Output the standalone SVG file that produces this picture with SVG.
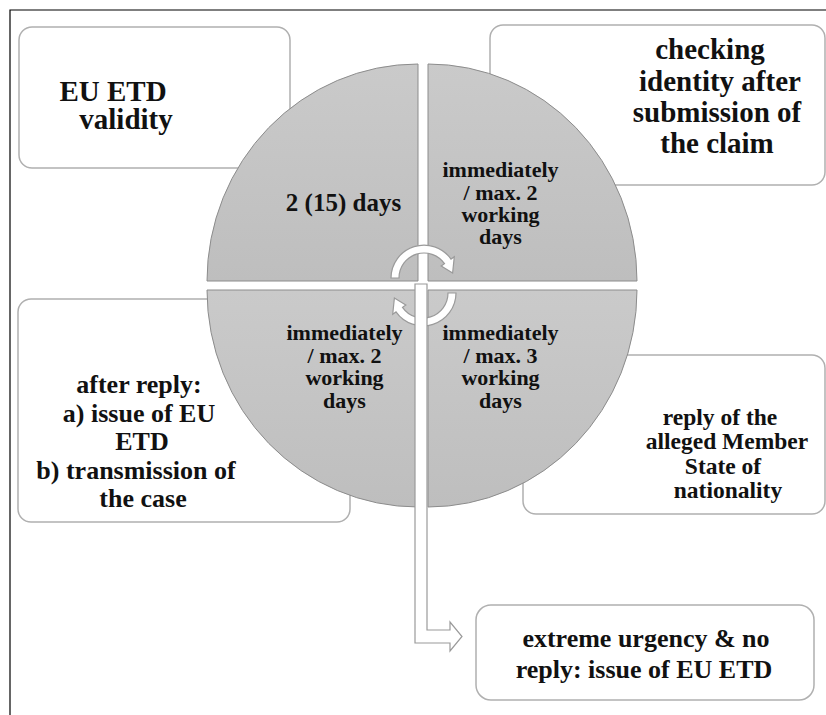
<svg xmlns="http://www.w3.org/2000/svg" width="826" height="715" viewBox="0 0 826 715">
<defs>
<linearGradient id="qg" x1="0" y1="0" x2="0" y2="1">
<stop offset="0" stop-color="#cacaca"/>
<stop offset="1" stop-color="#bebebe"/>
</linearGradient>
</defs>
<style>
.box{fill:#fff;stroke:#b0b0b0;stroke-width:1.5}
.q{fill:url(#qg);stroke:#8c8c8c;stroke-width:1}
.arr{fill:#fff;stroke:#9a9a9a;stroke-width:1.2}
text{font-family:'Liberation Serif','Times New Roman',serif;font-weight:bold;fill:#111;text-anchor:middle}
.t29{font-size:29px}
.t26{font-size:26px}
.t24{font-size:23.5px}
.t22{font-size:22px}
.t25{font-size:25px}
</style>
<rect width="826" height="715" fill="#fff"/>
<path d="M10,715 L10,10 L826,10" fill="none" stroke="#000" stroke-width="1.2"/>

<g id="box-validity">
<rect class="box" x="19" y="27" width="271" height="141" rx="13"/>
<text class="t29" x="113" y="101">EU ETD</text>
<text class="t29" x="126" y="129">validity</text>
</g>
<g id="box-checking">
<rect class="box" x="490" y="25" width="335" height="160" rx="13"/>
<text class="t29" x="710" y="59">checking</text>
<text class="t29" x="720" y="91">identity after</text>
<text class="t29" x="717" y="122">submission of</text>
<text class="t29" x="717" y="153">the claim</text>
</g>
<g id="box-after">
<rect class="box" x="18" y="299" width="332" height="223" rx="13"/>
<text class="t26" x="139" y="393">after reply:</text>
<text class="t26" x="139" y="421.5">a) issue of EU</text>
<text class="t26" x="142" y="450">ETD</text>
<text class="t26" x="136" y="478.5">b) transmission of</text>
<text class="t26" x="143" y="507">the case</text>
</g>
<g id="box-reply">
<rect class="box" x="523" y="355" width="302" height="159" rx="13"/>
<text class="t24" x="720" y="425">reply of the</text>
<text class="t24" x="727" y="449">alleged Member</text>
<text class="t24" x="723" y="474">State of</text>
<text class="t24" x="728" y="498">nationality</text>
</g>
<g id="box-urgency">
<rect class="box" x="476" y="605" width="338" height="95" rx="15"/>
<text class="t26" x="646" y="647">extreme urgency &amp; no</text>
<text class="t26" x="644" y="678">reply: issue of EU ETD</text>
</g>

<g id="circle">
<g id="q-tl">
<path class="q" d="M418,281 L207,281 A211,217 0 0 1 418,64 Z"/>
<text class="t25" x="343.5" y="211">2 (15) days</text>
</g>
<g id="q-tr">
<path class="q" d="M428,281 L428,64 A209,217 0 0 1 637,281 Z"/>
<text class="t22" x="500.5" y="177">immediately</text>
<text class="t22" x="500.5" y="199.5">/ max. 2</text>
<text class="t22" x="500.5" y="222">working</text>
<text class="t22" x="500.5" y="244">days</text>
</g>
<g id="q-bl">
<path class="q" d="M418,290 L418,507 A211,217 0 0 1 207,290 Z"/>
<text class="t22" x="344.5" y="340">immediately</text>
<text class="t22" x="344.5" y="362.5">/ max. 2</text>
<text class="t22" x="344.5" y="385">working</text>
<text class="t22" x="344.5" y="407.5">days</text>
</g>
<g id="q-br">
<path class="q" d="M428,290 L637,290 A209,217 0 0 1 428,507 Z"/>
<text class="t22" x="500.5" y="340">immediately</text>
<text class="t22" x="500.5" y="362.5">/ max. 3</text>
<text class="t22" x="500.5" y="385">working</text>
<text class="t22" x="500.5" y="407.5">days</text>
</g>
</g>

<g id="connectors">
<path id="cycle-top" class="arr" d="M391,278 A33,33 0 0 1 451,259.1 L454.3,256.8 L452.6,273 L441.2,266 L444.5,263.7 A25,25 0 0 0 399,278 Z"/>
<path id="cycle-bottom" class="arr" transform="rotate(180 423.5 285.5)" d="M391,278 A33,33 0 0 1 451,259.1 L454.3,256.8 L452.6,273 L441.2,266 L444.5,263.7 A25,25 0 0 0 399,278 Z"/>
<path id="bent-arrow" class="arr" d="M415,284 L427,284 L427,630 L450,630 L450,622 L462,636.5 L450,651 L450,643 L415,643 Z"/>
</g>
</svg>
